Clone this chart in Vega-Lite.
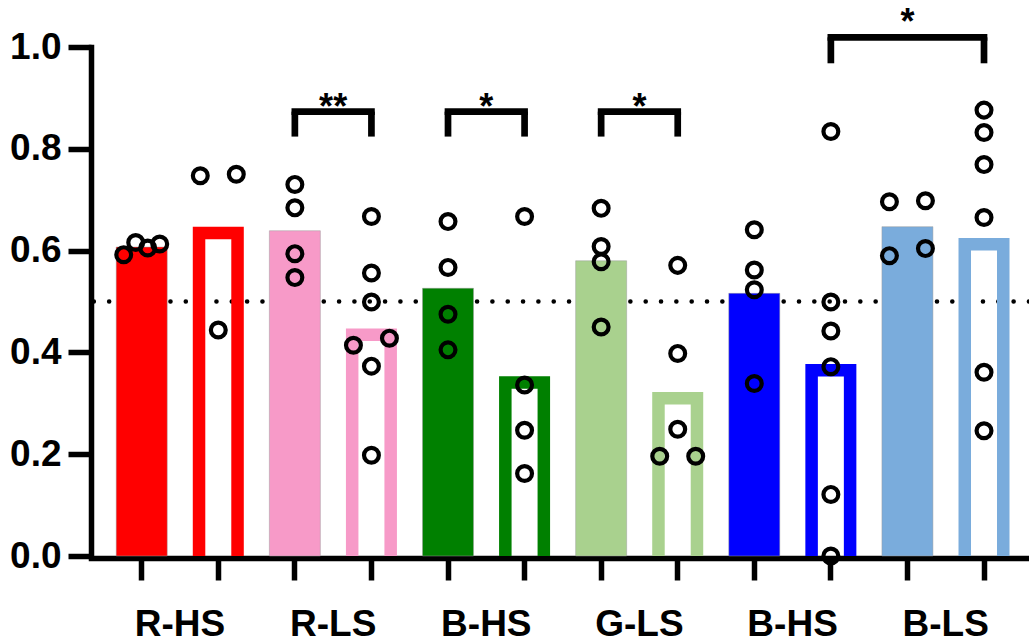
{
  "$schema": "https://vega.github.io/schema/vega-lite/v6.json",
  "width": 938,
  "height": 509,
  "autosize": {"type": "none"},
  "padding": {"left": 91, "top": 47, "right": 0, "bottom": 86},
  "background": "white",
  "config": {"view": {"stroke": null}, "font": "Liberation Sans"},
  "datasets": {
    "ref": [{"level": 0.5}],
    "bars": [
      {"key": "R-HS|1|A", "pair": "1", "cond": "A", "value": 0.607},
      {"key": "R-HS|1|B", "pair": "1", "cond": "B", "value": 0.647},
      {"key": "R-LS|2|A", "pair": "2", "cond": "A", "value": 0.639},
      {"key": "R-LS|2|B", "pair": "2", "cond": "B", "value": 0.447},
      {"key": "B-HS|3|A", "pair": "3", "cond": "A", "value": 0.526},
      {"key": "B-HS|3|B", "pair": "3", "cond": "B", "value": 0.353},
      {"key": "G-LS|4|A", "pair": "4", "cond": "A", "value": 0.580},
      {"key": "G-LS|4|B", "pair": "4", "cond": "B", "value": 0.322},
      {"key": "B-HS|5|A", "pair": "5", "cond": "A", "value": 0.516},
      {"key": "B-HS|5|B", "pair": "5", "cond": "B", "value": 0.377},
      {"key": "B-LS|6|A", "pair": "6", "cond": "A", "value": 0.647},
      {"key": "B-LS|6|B", "pair": "6", "cond": "B", "value": 0.625}
    ],
    "dots": [
      {"key": "R-HS|1|A", "value": 0.592, "lane": -1.5},
      {"key": "R-HS|1|A", "value": 0.616, "lane": -0.5},
      {"key": "R-HS|1|A", "value": 0.605, "lane": 0.5},
      {"key": "R-HS|1|A", "value": 0.613, "lane": 1.5},
      {"key": "R-HS|1|B", "value": 0.747, "lane": -1.5},
      {"key": "R-HS|1|B", "value": 0.750, "lane": 1.5},
      {"key": "R-HS|1|B", "value": 0.444, "lane": 0},
      {"key": "R-LS|2|A", "value": 0.730, "lane": 0},
      {"key": "R-LS|2|A", "value": 0.684, "lane": 0},
      {"key": "R-LS|2|A", "value": 0.594, "lane": 0},
      {"key": "R-LS|2|A", "value": 0.547, "lane": 0},
      {"key": "R-LS|2|B", "value": 0.667, "lane": 0},
      {"key": "R-LS|2|B", "value": 0.556, "lane": 0},
      {"key": "R-LS|2|B", "value": 0.499, "lane": 0},
      {"key": "R-LS|2|B", "value": 0.414, "lane": -1.5},
      {"key": "R-LS|2|B", "value": 0.428, "lane": 1.5},
      {"key": "R-LS|2|B", "value": 0.373, "lane": 0},
      {"key": "R-LS|2|B", "value": 0.198, "lane": 0},
      {"key": "B-HS|3|A", "value": 0.657, "lane": 0},
      {"key": "B-HS|3|A", "value": 0.567, "lane": 0},
      {"key": "B-HS|3|A", "value": 0.475, "lane": 0},
      {"key": "B-HS|3|A", "value": 0.405, "lane": 0},
      {"key": "B-HS|3|B", "value": 0.667, "lane": 0},
      {"key": "B-HS|3|B", "value": 0.336, "lane": 0},
      {"key": "B-HS|3|B", "value": 0.247, "lane": 0},
      {"key": "B-HS|3|B", "value": 0.162, "lane": 0},
      {"key": "G-LS|4|A", "value": 0.683, "lane": 0},
      {"key": "G-LS|4|A", "value": 0.608, "lane": 0},
      {"key": "G-LS|4|A", "value": 0.578, "lane": 0},
      {"key": "G-LS|4|A", "value": 0.450, "lane": 0},
      {"key": "G-LS|4|B", "value": 0.571, "lane": 0},
      {"key": "G-LS|4|B", "value": 0.398, "lane": 0},
      {"key": "G-LS|4|B", "value": 0.249, "lane": 0},
      {"key": "G-LS|4|B", "value": 0.196, "lane": -1.5},
      {"key": "G-LS|4|B", "value": 0.196, "lane": 1.5},
      {"key": "B-HS|5|A", "value": 0.641, "lane": 0},
      {"key": "B-HS|5|A", "value": 0.562, "lane": 0},
      {"key": "B-HS|5|A", "value": 0.523, "lane": 0},
      {"key": "B-HS|5|A", "value": 0.339, "lane": 0},
      {"key": "B-HS|5|B", "value": 0.834, "lane": 0},
      {"key": "B-HS|5|B", "value": 0.499, "lane": 0},
      {"key": "B-HS|5|B", "value": 0.442, "lane": 0},
      {"key": "B-HS|5|B", "value": 0.372, "lane": 0},
      {"key": "B-HS|5|B", "value": 0.121, "lane": 0},
      {"key": "B-HS|5|B", "value": 0.0, "lane": 0},
      {"key": "B-LS|6|A", "value": 0.696, "lane": -1.5},
      {"key": "B-LS|6|A", "value": 0.698, "lane": 1.5},
      {"key": "B-LS|6|A", "value": 0.590, "lane": -1.5},
      {"key": "B-LS|6|A", "value": 0.604, "lane": 1.5},
      {"key": "B-LS|6|B", "value": 0.876, "lane": 0},
      {"key": "B-LS|6|B", "value": 0.832, "lane": 0},
      {"key": "B-LS|6|B", "value": 0.769, "lane": 0},
      {"key": "B-LS|6|B", "value": 0.665, "lane": 0},
      {"key": "B-LS|6|B", "value": 0.361, "lane": 0},
      {"key": "B-LS|6|B", "value": 0.246, "lane": 0}
    ],
    "brackets": [
      {"a": "R-LS|2|A", "b": "R-LS|2|B", "mid": "", "span": 1, "top": 0.873, "leg": 0.824, "ty": 0.899, "star": "**"},
      {"a": "B-HS|3|A", "b": "B-HS|3|B", "mid": "", "span": 1, "top": 0.873, "leg": 0.824, "ty": 0.899, "star": "*"},
      {"a": "G-LS|4|A", "b": "G-LS|4|B", "mid": "", "span": 1, "top": 0.873, "leg": 0.824, "ty": 0.899, "star": "*"},
      {"a": "B-HS|5|B", "b": "B-LS|6|B", "mid": "B-LS|6|A", "span": 2, "top": 1.019, "leg": 0.968, "ty": 1.065, "star": "*"}
    ]
  },
  "layer": [
    {
      "data": {"name": "ref"},
      "mark": {"type": "rule", "color": "black", "strokeWidth": 4.5, "strokeCap": "round", "strokeDash": [0.1, 15.23]},
      "encoding": {
        "y": {"field": "level", "type": "quantitative", "scale": {"domain": [0, 1], "nice": false, "zero": true}}
      }
    },
    {
      "data": {"name": "bars"},
      "transform": [{"filter": "datum.cond == 'A'"}],
      "mark": {"type": "bar", "width": 51, "stroke": "#9a9a9a", "strokeWidth": 0.8, "strokeOpacity": 0.6},
      "encoding": {
        "x": {
          "field": "key", "type": "nominal",
          "scale": {
            "domain": ["R-HS|1|A", "R-HS|1|B", "R-LS|2|A", "R-LS|2|B", "B-HS|3|A", "B-HS|3|B", "G-LS|4|A", "G-LS|4|B", "B-HS|5|A", "B-HS|5|B", "B-LS|6|A", "B-LS|6|B"],
            "paddingInner": 0.334, "paddingOuter": 0.292, "align": 0.564
          },
          "axis": {
            "title": null, "grid": false,
            "domainColor": "black", "domainWidth": 5.5, "domainCap": "square", "offset": 2,
            "tickColor": "black", "tickWidth": 5.5, "tickSize": 22,
            "labelExpr": "split(datum.value, '|')[2] == 'A' ? split(datum.value, '|')[0] : ''",
            "labelOffset": 38.3, "labelAngle": 0, "labelAlign": "center",
            "labelFont": "Liberation Sans", "labelFontSize": 37, "labelFontWeight": "bold", "labelColor": "black",
            "labelPadding": 26, "labelOverlap": false, "labelBound": false, "labelFlush": false
          }
        },
        "y": {
          "field": "value", "type": "quantitative",
          "scale": {"domain": [0, 1], "nice": false, "zero": true},
          "axis": {
            "title": null, "grid": false, "values": [0, 0.2, 0.4, 0.6, 0.8, 1.0], "format": ".1f",
            "domainColor": "black", "domainWidth": 5.5, "domainCap": "square",
            "tickColor": "black", "tickWidth": 5.5, "tickSize": 23,
            "labelFont": "Liberation Sans", "labelFontSize": 37, "labelFontWeight": "bold", "labelColor": "black",
            "labelPadding": 7, "labelFlush": false, "labelOverlap": false
          }
        },
        "color": {
          "field": "pair", "type": "nominal", "legend": null,
          "scale": {"domain": ["1", "2", "3", "4", "5", "6"], "range": ["#FF0000", "#F79AC8", "#008000", "#A9D18E", "#0000FF", "#7AACDC"]}
        }
      }
    },
    {
      "data": {"name": "bars"},
      "transform": [{"filter": "datum.cond == 'B'"}],
      "mark": {"type": "bar", "filled": false, "strokeWidth": 12.5, "width": 38.5, "yOffset": 6.25, "y2Offset": 8, "clip": true, "strokeJoin": "miter"},
      "encoding": {
        "x": {"field": "key", "type": "nominal"},
        "y": {"field": "value", "type": "quantitative"},
        "y2": {"datum": 0},
        "color": {"field": "pair", "type": "nominal", "legend": null}
      }
    },
    {
      "data": {"name": "dots"},
      "mark": {"type": "point", "shape": "circle", "filled": false, "size": 220, "strokeWidth": 4.2, "color": "black", "opacity": 1},
      "encoding": {
        "x": {"field": "key", "type": "nominal"},
        "xOffset": {"field": "lane", "type": "quantitative", "scale": {"domain": [-1.5, 1.5], "range": [7.5, 43.5]}},
        "y": {"field": "value", "type": "quantitative"}
      }
    },
    {
      "data": {"name": "brackets"},
      "mark": {"type": "rule", "color": "black", "strokeWidth": 6.7, "strokeCap": "square"},
      "encoding": {
        "x": {"field": "a", "type": "nominal"},
        "x2": {"field": "b"},
        "y": {"field": "top", "type": "quantitative"}
      }
    },
    {
      "data": {"name": "brackets"},
      "mark": {"type": "rule", "color": "black", "strokeWidth": 6.7, "strokeCap": "butt"},
      "encoding": {
        "x": {"field": "a", "type": "nominal"},
        "y": {"field": "top", "type": "quantitative"},
        "y2": {"field": "leg"}
      }
    },
    {
      "data": {"name": "brackets"},
      "mark": {"type": "rule", "color": "black", "strokeWidth": 6.7, "strokeCap": "butt"},
      "encoding": {
        "x": {"field": "b", "type": "nominal"},
        "y": {"field": "top", "type": "quantitative"},
        "y2": {"field": "leg"}
      }
    },
    {
      "data": {"name": "brackets"},
      "transform": [{"filter": "datum.span == 1"}],
      "mark": {"type": "text", "font": "Liberation Sans", "fontSize": 36, "fontWeight": "bold", "color": "black", "align": "center", "baseline": "middle", "dx": -38.3, "dy": 9.5},
      "encoding": {
        "x": {"field": "b", "type": "nominal"},
        "y": {"field": "ty", "type": "quantitative"},
        "text": {"field": "star"}
      }
    },
    {
      "data": {"name": "brackets"},
      "transform": [{"filter": "datum.span == 2"}],
      "mark": {"type": "text", "font": "Liberation Sans", "fontSize": 36, "fontWeight": "bold", "color": "black", "align": "center", "baseline": "middle", "dy": 9.5},
      "encoding": {
        "x": {"field": "mid", "type": "nominal"},
        "y": {"field": "ty", "type": "quantitative"},
        "text": {"field": "star"}
      }
    }
  ]
}
